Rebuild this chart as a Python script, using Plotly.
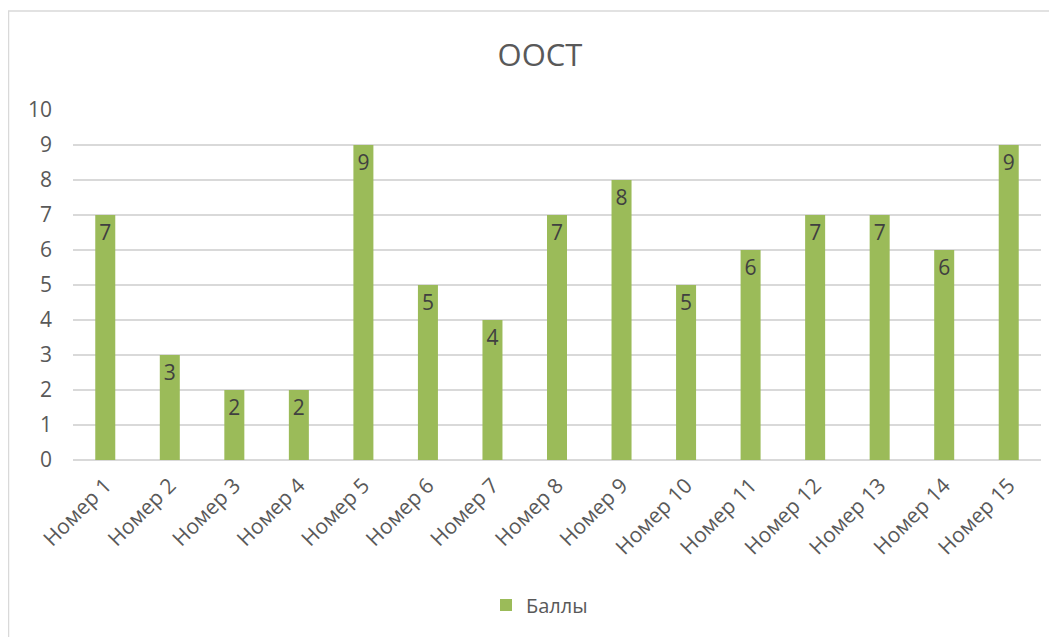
import plotly.graph_objects as go

categories = [f"Номер {i}" for i in range(1, 16)]
values = [7, 3, 2, 2, 9, 5, 4, 7, 8, 5, 6, 7, 7, 6, 9]
series_name = "Баллы"
title_text = "ООСТ"

FONT = "Open Sans, Liberation Sans, sans-serif"

# page body adds an 8px offset; figure coordinates are compensated
W, H = 1049, 629
L, T, PW, PH = 65, 102, 968, 350
R = W - L - PW
B = H - T - PH

fig = go.Figure()
fig.add_trace(go.Bar(
    x=categories, y=values, name=series_name,
    marker=dict(color="#9BBB59", line=dict(width=0)),
    width=0.31,
    text=[str(v) for v in values],
    textposition="inside", insidetextanchor="end", textangle=0,
    textfont=dict(family=FONT, size=21, color="#404040"),
    constraintext="none",
))

fig.update_layout(
    width=W, height=H,
    margin=dict(l=L, r=R, t=T, b=B, autoexpand=False),
    paper_bgcolor="white", plot_bgcolor="white",
    font=dict(family=FONT, color="#595959", size=20),
    title=dict(text=title_text, x=(540 - 8 - L) / PW, xref="paper", xanchor="center",
               y=1 - 47 / H, yanchor="middle", yref="container",
               font=dict(family=FONT, size=31, color="#595959")),
    showlegend=True,
    legend=dict(orientation="h", x=(486 - 8 - L) / PW, xanchor="left",
                y=(460 - 605) / PH, yanchor="middle",
                font=dict(family=FONT, size=20, color="#595959")),
    bargap=0.69,
)
fig.update_yaxes(range=[0, 10], dtick=1, showgrid=True, gridcolor="#D9D9D9",
                 gridwidth=1.5, zeroline=True, zerolinecolor="#D9D9D9", zerolinewidth=1.5,
                 showline=False, ticks="", ticklabelstandoff=20,
                 tickfont=dict(family=FONT, size=21, color="#595959"))
fig.update_xaxes(showgrid=False, showline=False, tickangle=-45, ticks="",
                 ticklabelstandoff=8,
                 tickfont=dict(family=FONT, size=21, color="#595959"))
fig.add_shape(type="rect", xref="paper", yref="paper",
              x0=(0.5 - L) / PW, x1=(1060 - L) / PW,
              y0=(PH + T - 650) / PH, y1=(PH + T - 3) / PH,
              line=dict(color="#D9D9D9", width=1.5), fillcolor="rgba(0,0,0,0)",
              layer="below")

fig.write_html("out.html")
